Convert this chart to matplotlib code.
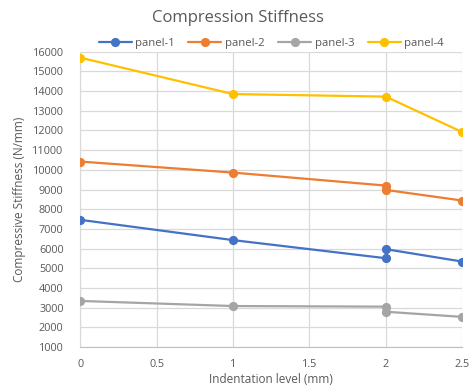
import matplotlib
matplotlib.use("Agg")
import matplotlib.pyplot as plt
from matplotlib.ticker import MultipleLocator

# Indentation levels (mm) and measured compressive stiffness (N/mm)
x_levels = [0, 1, 2, 2, 2.5]
panel_1 = [7460, 6430, 5510, 5970, 5340]
panel_2 = [10420, 9860, 9200, 8980, 8440]
panel_3 = [3340, 3080, 3050, 2790, 2530]
panel_4 = [15700, 13850, 13720, 11920]
x_panel_4 = [0, 1, 2, 2.5]

series = [
    ("panel-1", x_levels, panel_1, "#4472C4"),
    ("panel-2", x_levels, panel_2, "#ED7D31"),
    ("panel-3", x_levels, panel_3, "#A5A5A5"),
    ("panel-4", x_panel_4, panel_4, "#FFC000"),
]

plt.rcParams["font.family"] = ["Open Sans", "DejaVu Sans"]
text_color = "#595959"

fig = plt.figure(figsize=(4.75, 3.89), dpi=100)
ax = fig.add_axes([0.169, 0.108, 0.804, 0.759])

for name, xs, ys, color in series:
    ax.plot(xs, ys, color=color, lw=1.6, marker="o", ms=5.6, label=name,
            solid_capstyle="round", zorder=3)

ax.set_xlim(0, 2.5)
ax.set_ylim(1000, 16000)
ax.yaxis.set_major_locator(MultipleLocator(1000))
ax.set_xticks([0, 0.5, 1, 1.5, 2, 2.5])
ax.set_xticklabels(["0", "0.5", "1", "1.5", "2", "2.5"])

ax.grid(True, color="#D9D9D9", lw=0.9, zorder=0)
for side in ["top", "right"]:
    ax.spines[side].set_visible(False)
ax.spines["left"].set_color("#D9D9D9")
ax.spines["bottom"].set_color("#BFBFBF")
ax.tick_params(length=0, labelsize=7.8, colors=text_color)
ax.tick_params(axis="y", pad=12)
ax.tick_params(axis="x", pad=9)

ax.set_xlabel("Indentation level (mm)", fontsize=8.5, color=text_color, labelpad=2)
ax.set_ylabel("Compressive Stiffness (N/mm)", fontsize=8.5, color=text_color, labelpad=5)

fig.text(0.5, 0.955, "Compression Stiffness", ha="center", va="center",
         fontsize=12, color=text_color)

leg = ax.legend(loc="center", bbox_to_anchor=(0.5, 1.028), ncol=4, frameon=False,
                fontsize=8.2, handlelength=2.9, columnspacing=1.2, handletextpad=0.3,
                borderaxespad=0)
for t in leg.get_texts():
    t.set_color(text_color)

fig.savefig("out.png", dpi=100)
